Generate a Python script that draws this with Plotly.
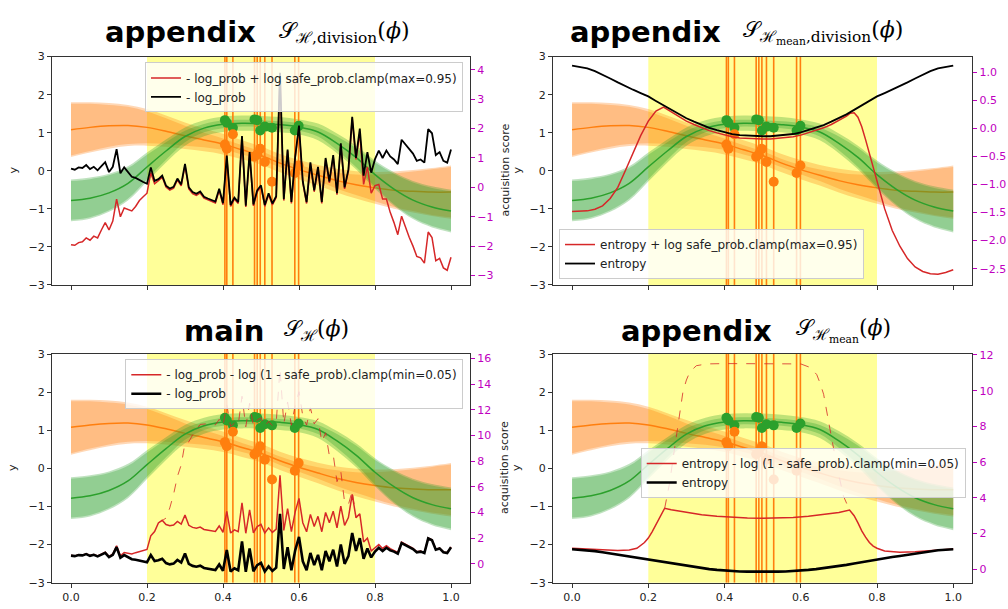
import plotly.graph_objects as go

# ---------------- data ----------------
x_gp = [0.00, 0.05, 0.10, 0.15, 0.20, 0.25, 0.30, 0.35, 0.40, 0.45, 0.50,
        0.55, 0.60, 0.65, 0.70, 0.75, 0.80, 0.85, 0.90, 0.95, 1.00]
orange_mean = [1.08, 1.14, 1.18, 1.19, 1.14, 1.04, 0.92, 0.81, 0.70, 0.55, 0.40,
               0.20, 0.03, -0.12, -0.26, -0.37, -0.45, -0.51, -0.54, -0.56, -0.56]
orange_half_outer = [0.72, 0.66, 0.60, 0.54, 0.48, 0.41, 0.35, 0.30, 0.27, 0.25, 0.24,
                     0.24, 0.25, 0.27, 0.31, 0.36, 0.42, 0.49, 0.56, 0.63, 0.70]
orange_half_inner = [0.68, 0.62, 0.55, 0.49, 0.42, 0.34, 0.26, 0.19, 0.15, 0.12, 0.11,
                     0.11, 0.12, 0.15, 0.21, 0.27, 0.35, 0.44, 0.52, 0.60, 0.66]
green_mean = [-0.78, -0.72, -0.58, -0.33, 0.10, 0.52, 0.90, 1.12, 1.22, 1.25, 1.24,
              1.21, 1.15, 1.02, 0.72, 0.35, -0.10, -0.48, -0.77, -0.95, -1.06]
green_half_outer = [0.55, 0.54, 0.50, 0.45, 0.38, 0.30, 0.24, 0.21, 0.20, 0.20, 0.20,
                    0.20, 0.20, 0.22, 0.26, 0.31, 0.37, 0.44, 0.50, 0.54, 0.56]
green_half_inner = [0.51, 0.50, 0.46, 0.40, 0.32, 0.23, 0.15, 0.11, 0.10, 0.09, 0.09,
                    0.09, 0.10, 0.12, 0.18, 0.25, 0.32, 0.40, 0.46, 0.50, 0.52]

obs_x = [0.405, 0.41, 0.426, 0.483, 0.49, 0.498, 0.51, 0.529, 0.589, 0.599]
obs_green = [1.33, 1.26, 1.13, 1.35, 1.33, 1.06, 1.16, 1.13, 1.06, 1.18]
obs_orange = [0.69, 0.58, 0.96, 0.37, 0.43, 0.58, 0.23, -0.29, -0.06, 0.14]
safe_region = [0.2, 0.8]

x_acq = [i / 100 for i in range(101)]
neg_log_prob = [0.64, 0.60, 0.68, 0.66, 0.76, 0.62, 0.70, 0.58, 0.72, 0.86,
                0.52, 0.70, 1.30, 0.48, 0.68, 0.52, 0.36, 0.32, 0.24, 0.18,
                0.12, 0.68, 0.22, 0.28, 0.40, 0.06, -0.04, 0.02, 0.30, 0.10,
                0.80, 0.00, -0.16, -0.22, -0.14, -0.32, -0.38, -0.44, -0.48, -0.05,
                -0.54, 1.08, -0.60, -0.35, -0.50, 1.75, -0.62, 1.20, -0.58, -0.10,
                0.07, -0.60, -0.20, -0.55, -0.30, 3.90, -0.40, 1.29, -0.50, 1.05,
                2.10, 0.20, -0.50, 0.85, -0.10, 0.70, -0.50, 1.00, 0.20, 1.10,
                -0.20, 1.50, 0.00, 0.60, 2.40, 1.00, 2.00, 0.40, 1.20, 0.50,
                0.96, 1.25, 1.00, 1.25, 1.05, 0.95, 0.79, 1.62, 1.45, 1.30,
                1.15, 0.90, 0.95, 0.84, 1.98, 1.84, 1.10, 1.20, 0.90, 0.84, 1.29]
tl_red = [-1.95, -1.97, -1.88, -1.85, -1.72, -1.80, -1.66, -1.72, -1.45, -1.20,
          -1.45, -1.15, -0.40, -1.00, -0.70, -0.75, -0.80, -0.65, -0.45, -0.32,
          -0.20, 0.50, 0.12, 0.23, 0.35, 0.01, -0.09, -0.03, 0.25, 0.05,
          0.75, -0.05, -0.21, -0.27, -0.19, -0.37, -0.43, -0.49, -0.53, -0.10,
          -0.59, 1.03, -0.65, -0.40, -0.55, 1.70, -0.67, 1.15, -0.63, -0.15,
          0.02, -0.65, -0.25, -0.60, -0.35, 3.85, -0.45, 1.24, -0.55, 1.00,
          2.05, 0.15, -0.55, 0.80, -0.15, 0.65, -0.55, 0.95, 0.15, 1.05,
          -0.25, 1.45, -0.05, 0.55, 2.35, 0.95, 1.85, 0.10, 0.70, -0.20,
          0.06, 0.10, -0.40, -0.40, -0.85, -1.20, -1.61, -0.98, -1.35, -1.70,
          -2.00, -2.35, -2.40, -2.58, -1.52, -1.71, -2.50, -2.42, -2.74, -2.82, -2.38]
bl_red = [0.66, 0.62, 0.70, 0.68, 0.79, 0.65, 0.73, 0.61, 0.76, 0.90,
          0.57, 0.77, 1.40, 0.63, 0.88, 0.82, 0.76, 0.87, 0.94, 1.03,
          1.12, 2.18, 2.52, 3.18, 3.40, 3.06, 2.96, 3.02, 3.30, 3.10,
          3.80, 3.00, 2.84, 2.78, 2.86, 2.68, 2.62, 2.56, 2.52, 2.95,
          2.46, 4.08, 2.40, 2.65, 2.50, 4.75, 2.38, 4.20, 2.42, 2.90,
          3.07, 2.40, 2.80, 2.45, 2.70, 6.90, 2.60, 4.29, 2.50, 4.05,
          5.10, 3.20, 2.50, 3.85, 2.90, 3.70, 2.50, 4.00, 3.20, 4.10,
          2.80, 4.50, 3.00, 3.60, 5.40, 3.60, 3.90, 1.70, 2.00, 1.00,
          1.26, 1.50, 1.20, 1.42, 1.19, 1.07, 0.89, 1.70, 1.52, 1.36,
          1.20, 0.94, 0.99, 0.87, 2.01, 1.87, 1.13, 1.22, 0.92, 0.86, 1.31]
bl_dash_x = x_acq[23:77]
bl_dash = [3.18, 3.40, 3.56, 4.36, 5.42, 6.80, 7.70, 9.40, 9.50, 10.04,
           10.48, 10.86, 10.88, 10.92, 10.86, 10.82, 11.25, 10.76, 12.38, 10.70,
           10.95, 10.80, 13.05, 10.68, 12.50, 10.72, 11.20, 11.37, 10.70, 11.10,
           10.75, 11.00, 15.20, 10.90, 12.59, 10.80, 12.35, 13.40, 11.50, 10.80,
           12.15, 10.90, 11.30, 9.50, 10.20, 8.40, 8.50, 6.40, 7.20, 4.80,
           4.60, 5.70, 3.60, 3.90]

x_ent = [i / 50 for i in range(51)]
entropy = [1.12, 1.10, 1.07, 1.02, 0.96, 0.89, 0.82, 0.75, 0.69, 0.63,
           0.57, 0.49, 0.41, 0.33, 0.25, 0.18, 0.12, 0.06, 0.01, -0.03,
           -0.07, -0.10, -0.12, -0.13, -0.14, -0.14, -0.14, -0.13, -0.12, -0.10,
           -0.07, -0.03, 0.01, 0.06, 0.12, 0.18, 0.25, 0.33, 0.41, 0.49,
           0.57, 0.63, 0.69, 0.75, 0.82, 0.89, 0.96, 1.02, 1.07, 1.10, 1.12]
tr_red_x = [0.00, 0.02, 0.04, 0.06, 0.08, 0.10, 0.12, 0.14, 0.16, 0.18,
            0.20, 0.22, 0.24, 0.26, 0.28, 0.30, 0.32, 0.34, 0.36, 0.38,
            0.40, 0.42, 0.44, 0.46, 0.48, 0.50, 0.52, 0.54, 0.56, 0.58,
            0.60, 0.62, 0.64, 0.66, 0.68, 0.70, 0.72, 0.73, 0.74, 0.75,
            0.76, 0.77, 0.78, 0.80, 0.82, 0.84, 0.86, 0.88, 0.90, 0.92,
            0.94, 0.96, 0.98, 1.00]
tr_red = [-1.48, -1.48, -1.47, -1.44, -1.38, -1.25, -1.05, -0.75, -0.45, -0.13,
          0.13, 0.31, 0.38, 0.30, 0.21, 0.13, 0.07, 0.01, -0.04, -0.08,
          -0.12, -0.15, -0.17, -0.18, -0.19, -0.19, -0.19, -0.18, -0.17, -0.15,
          -0.12, -0.08, -0.04, 0.01, 0.07, 0.14, 0.22, 0.27, 0.28, 0.20,
          0.03, -0.20, -0.45, -0.95, -1.43, -1.82, -2.10, -2.32, -2.47, -2.55,
          -2.59, -2.60, -2.57, -2.52]
br_red_x = [0.00, 0.04, 0.08, 0.12, 0.15, 0.17, 0.19, 0.20, 0.21, 0.22,
            0.23, 0.243, 0.26, 0.30, 0.34, 0.38, 0.42, 0.46, 0.50, 0.54,
            0.58, 0.62, 0.66, 0.70, 0.728, 0.74, 0.75, 0.76, 0.77, 0.78,
            0.79, 0.80, 0.82, 0.86, 0.90, 0.94, 0.97, 1.00]
br_red = [1.18, 1.14, 1.10, 1.06, 1.08, 1.18, 1.50, 1.75, 2.10, 2.50,
          2.95, 3.42, 3.33, 3.18, 3.06, 2.97, 2.90, 2.87, 2.86, 2.87,
          2.90, 2.97, 3.06, 3.18, 3.32, 3.00, 2.60, 2.15, 1.80, 1.50,
          1.30, 1.18, 1.03, 0.95, 0.98, 1.04, 1.10, 1.14]
br_dash_x = [0.243, 0.256, 0.265, 0.274, 0.283, 0.291, 0.300, 0.309, 0.326, 0.353,
             0.40, 0.50, 0.60, 0.625, 0.642, 0.651, 0.660, 0.677, 0.695, 0.712, 0.728]
br_dash = [3.42, 4.84, 6.20, 7.58, 8.90, 9.95, 10.60, 11.05, 11.40, 11.50,
           11.52, 11.52, 11.50, 11.30, 10.90, 10.40, 9.80, 7.80, 5.75, 4.10, 3.32]

# ---------------- styling ----------------
C_ORANGE = '#ff7f0e'
C_GREEN = '#2ca02c'
C_RED = '#d62728'
MAGENTA = '#bf00bf'
FONT = 'DejaVu Sans'

xdom = [[52 / 1008, 470 / 1008], [553 / 1008, 972.3 / 1008]]
ydom = [[1 - 285 / 609, 1 - 51.7 / 609], [1 - 589.3 / 609, 1 - 355.7 / 609]]

panels = [
    dict(col=0, row=0, right_range=[-3.32, 4.45], dtick=1, fmt='d',
         red_x=x_acq, red=tl_red, black_x=x_acq, black=neg_log_prob, bw=1.8,
         dash_x=None, dash=None,
         red_name='- log_prob + log safe_prob.clamp(max=0.95)', black_name='- log_prob',
         leg=dict(x=463 / 1008, y=1 - 57.7 / 609, xanchor='right', yanchor='top')),
    dict(col=1, row=0, right_range=[-2.79, 1.28], dtick=0.5, fmt='.1f',
         red_x=tr_red_x, red=tr_red, black_x=x_ent, black=entropy, bw=1.8,
         dash_x=None, dash=None,
         red_name='entropy + log safe_prob.clamp(max=0.95)', black_name='entropy',
         leg=dict(x=559 / 1008, y=1 - 279 / 609, xanchor='left', yanchor='bottom')),
    dict(col=0, row=1, right_range=[-1.47, 16.33], dtick=2, fmt='d',
         red_x=x_acq, red=bl_red, black_x=x_acq, black=neg_log_prob, bw=2.6,
         dash_x=bl_dash_x, dash=bl_dash,
         red_name='- log_prob - log (1 - safe_prob).clamp(min=0.05)', black_name='- log_prob',
         leg=dict(x=463.3 / 1008, y=1 - 361 / 609, xanchor='right', yanchor='top')),
    dict(col=1, row=1, right_range=[-0.75, 12.05], dtick=2, fmt='d',
         red_x=br_red_x, red=br_red, black_x=x_ent, black=entropy, bw=2.6,
         dash_x=br_dash_x, dash=br_dash,
         red_name='entropy - log (1 - safe_prob).clamp(min=0.05)', black_name='entropy',
         leg=dict(x=965.7 / 1008, y=1 - 451.7 / 609, xanchor='right', yanchor='top')),
]

fig = go.Figure()
layout = dict(width=1008, height=609, margin=dict(l=0, r=0, t=0, b=0),
              paper_bgcolor='white', plot_bgcolor='white', showlegend=True,
              shapes=[], annotations=[])


def band(xa, ya, mean, half, color, alpha):
    lo = [m - h for m, h in zip(mean, half)]
    hi = [m + h for m, h in zip(mean, half)]
    fig.add_trace(go.Scatter(x=x_gp, y=lo, xaxis=xa, yaxis=ya, mode='lines',
                             line=dict(width=0, shape='spline'), showlegend=False,
                             hoverinfo='skip'))
    fig.add_trace(go.Scatter(x=x_gp, y=hi, xaxis=xa, yaxis=ya, mode='lines',
                             line=dict(width=0, shape='spline'), fill='tonexty',
                             fillcolor=color.format(alpha), showlegend=False,
                             hoverinfo='skip'))


for i, p in enumerate(panels, start=1):
    xa = 'x' if i == 1 else f'x{i}'
    ya = 'y' if i == 1 else f'y{i}'
    ya2 = f'y{i + 4}'
    legname = 'legend' if i == 1 else f'legend{i}'
    xd = xdom[p['col']]
    yd = ydom[p['row']]
    axstyle = dict(showline=True, mirror=True, linecolor='#333333', linewidth=1,
                   ticks='outside', ticklen=4, tickcolor='#333333', showgrid=False,
                   zeroline=False, tickfont=dict(family=FONT, size=11, color='#222222'))
    layout[f'xaxis{i if i > 1 else ""}'] = dict(
        domain=xd, anchor=ya, range=[-0.05, 1.05],
        tickvals=[0, 0.2, 0.4, 0.6, 0.8, 1.0], tickformat='.1f',
        showticklabels=(p['row'] == 1), **axstyle)
    layout[f'yaxis{i if i > 1 else ""}'] = dict(
        domain=yd, anchor=xa, range=[-3, 3], dtick=1, tickformat='d', **axstyle)
    layout[f'yaxis{i + 4}'] = dict(
        overlaying=ya, anchor=xa, side='right', range=p['right_range'],
        dtick=p['dtick'], tickformat=p['fmt'], showgrid=False, zeroline=False,
        showline=False, ticks='outside', ticklen=4, tickcolor=MAGENTA,
        tickfont=dict(family=FONT, size=11, color=MAGENTA))
    layout[legname] = dict(bgcolor='rgba(255,255,255,0.8)', bordercolor='#cccccc',
                           borderwidth=1, font=dict(family=FONT, size=12, color='#222222'),
                           tracegroupgap=0, traceorder='normal', **p['leg'])

    # safe region span
    layout['shapes'].append(dict(type='rect', xref=xa, yref=f'{ya} domain',
                                 x0=safe_region[0], x1=safe_region[1], y0=0, y1=1,
                                 fillcolor='rgba(255,255,0,0.4)', line=dict(width=0),
                                 layer='below'))

    # GP bands
    band(xa, ya, orange_mean, orange_half_outer, 'rgba(255,127,14,{})', 0.3)
    band(xa, ya, orange_mean, orange_half_inner, 'rgba(255,127,14,{})', 0.3)
    fig.add_trace(go.Scatter(x=x_gp, y=orange_mean, xaxis=xa, yaxis=ya, mode='lines',
                             line=dict(color=C_ORANGE, width=1.5, shape='spline'),
                             showlegend=False, hoverinfo='skip'))
    band(xa, ya, green_mean, green_half_outer, 'rgba(44,160,44,{})', 0.3)
    band(xa, ya, green_mean, green_half_inner, 'rgba(44,160,44,{})', 0.3)
    fig.add_trace(go.Scatter(x=x_gp, y=green_mean, xaxis=xa, yaxis=ya, mode='lines',
                             line=dict(color=C_GREEN, width=1.5, shape='spline'),
                             showlegend=False, hoverinfo='skip'))

    # vertical lines at observations
    vx, vy = [], []
    for ox in obs_x:
        vx += [ox, ox, None]
        vy += [-3, 3, None]
    fig.add_trace(go.Scatter(x=vx, y=vy, xaxis=xa, yaxis=ya, mode='lines',
                             line=dict(color=C_ORANGE, width=1.6),
                             showlegend=False, hoverinfo='skip'))
    # observations
    fig.add_trace(go.Scatter(x=obs_x, y=obs_green, xaxis=xa, yaxis=ya, mode='markers',
                             marker=dict(color=C_GREEN, size=10), showlegend=False))
    fig.add_trace(go.Scatter(x=obs_x, y=obs_orange, xaxis=xa, yaxis=ya, mode='markers',
                             marker=dict(color=C_ORANGE, size=10), showlegend=False))

    # acquisition curves (secondary axis)
    if p['dash'] is not None:
        fig.add_trace(go.Scatter(x=p['dash_x'], y=p['dash'], xaxis=xa, yaxis=ya2,
                                 mode='lines', line=dict(color=C_RED, width=0.8, dash='dash'),
                                 showlegend=False, hoverinfo='skip'))
    fig.add_trace(go.Scatter(x=p['red_x'], y=p['red'], xaxis=xa, yaxis=ya2, mode='lines',
                             line=dict(color=C_RED, width=1.5), name=p['red_name'],
                             legend=legname))
    fig.add_trace(go.Scatter(x=p['black_x'], y=p['black'], xaxis=xa, yaxis=ya2, mode='lines',
                             line=dict(color='black', width=p['bw']), name=p['black_name'],
                             legend=legname))

# axis labels
ann = layout['annotations']
for (xp, yp, txt) in [(13, 168, 'y'), (517, 168, 'y'), (13, 472, 'y'), (517, 472, 'y'),
                      (505, 168, 'acquisition score'), (505, 472, 'acquisition score')]:
    ann.append(dict(text=txt, xref='paper', yref='paper', x=xp / 1008, y=1 - yp / 609,
                    xanchor='center', yanchor='middle', textangle=-90, showarrow=False,
                    font=dict(family=FONT, size=11, color='#222222')))

# titles
titles = [('appendix', '𝒮<sub>ℋ,division</sub>(<i>ϕ</i>)', 103, 277, 27),
          ('appendix', '𝒮<sub>ℋ<sub>mean</sub>,division</sub>(<i>ϕ</i>)', 568, 741, 27),
          ('main', '𝒮<sub>ℋ</sub>(<i>ϕ</i>)', 182, 282, 332),
          ('appendix', '𝒮<sub>ℋ<sub>mean</sub></sub>(<i>ϕ</i>)', 619, 794, 332)]
for word, math, xw, xm, yc in titles:
    ann.append(dict(text=f'<b>{word}</b>', xref='paper', yref='paper', x=xw / 1008,
                    y=1 - yc / 609, xanchor='left', yanchor='middle', showarrow=False,
                    font=dict(family=FONT, size=29, color='black')))
    ann.append(dict(text=math, xref='paper', yref='paper', x=xm / 1008,
                    y=1 - yc / 609, xanchor='left', yanchor='middle', showarrow=False,
                    font=dict(family='DejaVu Serif', size=22, color='black')))

fig.update_layout(**layout)
fig.write_html('out.html')
